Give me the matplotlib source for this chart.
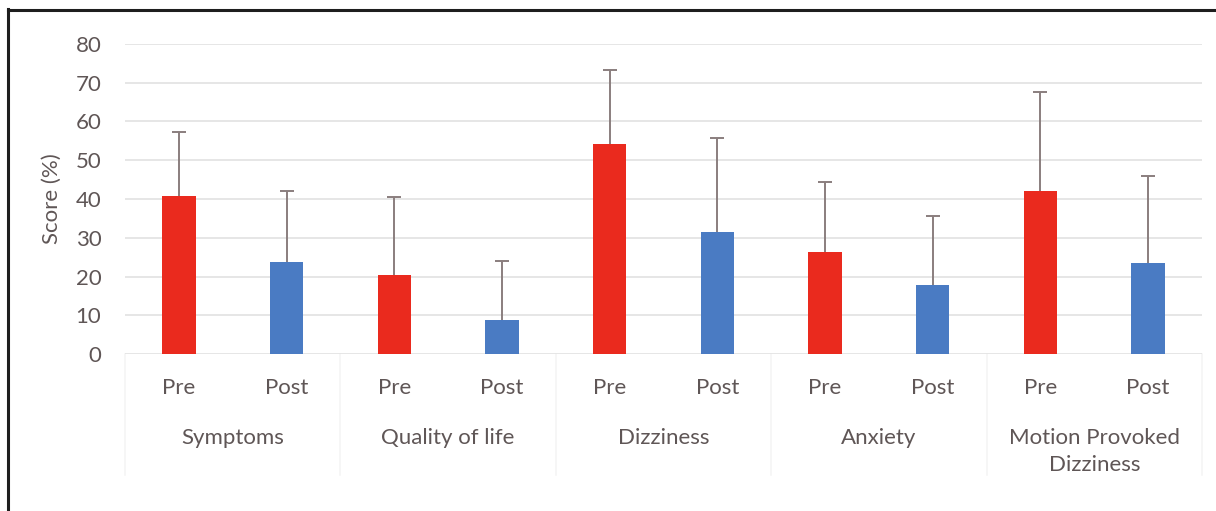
import matplotlib.pyplot as plt
from matplotlib.lines import Line2D
from matplotlib.transforms import blended_transform_factory
import numpy as np

plt.rcParams["font.family"] = ["Lato", "DejaVu Sans"]

# scores per outcome, pre and post intervention
groups = ["Symptoms", "Quality of life", "Dizziness", "Anxiety", "Motion Provoked\nDizziness"]
phases = ["Pre", "Post"]
pre_mean = [40.8, 20.4, 54.1, 26.4, 42.1]
post_mean = [23.8, 8.8, 31.6, 17.8, 23.4]
pre_sd = [16.5, 20.2, 19.1, 18.1, 25.5]
post_sd = [18.3, 15.3, 24.2, 17.8, 22.5]

red = "#ea2a1e"
blue = "#4a7bc3"
txt = "#5f5656"
fs = 16

means = []
sds = []
colors = []
for a, b, sa, sb in zip(pre_mean, post_mean, pre_sd, post_sd):
    means += [a, b]
    sds += [sa, sb]
    colors += [red, blue]
x = np.arange(len(means))

fig = plt.figure(figsize=(12.16, 5.11), dpi=100)
ax = fig.add_axes([0.1028, 0.3067, 0.8857, 0.6078])

ax.bar(x, means, width=0.31, color=colors, zorder=3)
eb = ax.errorbar(x, means, yerr=[np.zeros(len(sds)), sds], fmt="none",
                 ecolor="#8a7e7e", elinewidth=1.4, capsize=5, capthick=1.4, zorder=2)
# plus-side only: hide the caps sitting on the bar tops
eb[1][0].set_visible(False)

ax.set_xlim(-0.5, len(means) - 0.5)
ax.set_ylim(0, 80)
ax.set_yticks(range(0, 81, 10))
ax.yaxis.grid(True, color="#e2e2e2", lw=1.2, zorder=0)
for s in ax.spines.values():
    s.set_visible(False)
ax.tick_params(axis="y", length=0, pad=17, labelsize=fs, labelcolor=txt)
ax.tick_params(axis="x", length=0)
ax.set_xticks([])
ax.set_ylabel("Score (%)", fontsize=fs, color=txt, labelpad=10)

trans = blended_transform_factory(ax.transData, ax.transAxes)
for i in x:
    ax.text(i, -0.11, phases[i % 2], transform=trans, ha="center", va="center",
            fontsize=fs, color=txt)
for g, name in enumerate(groups):
    ax.text(2 * g + 0.5, -0.238, name, transform=trans, ha="center", va="top",
            fontsize=fs, color=txt, linespacing=1.45)

# faint group dividers below the axis
for k in range(len(groups) + 1):
    ax.plot([2 * k - 0.5] * 2, [0, -0.39], transform=trans, color="#f5f5f5",
            lw=1.2, clip_on=False, zorder=1)

# frame lines along the left and top edges
fig.add_artist(Line2D([7.5 / 1216, 7.5 / 1216], [0, 1 - 9 / 511], color="#1e1e1e", lw=2.2))
fig.add_artist(Line2D([7.5 / 1216, 1], [1 - 10 / 511, 1 - 10 / 511], color="#1e1e1e", lw=2.2))

fig.savefig("out.png", dpi=100)
